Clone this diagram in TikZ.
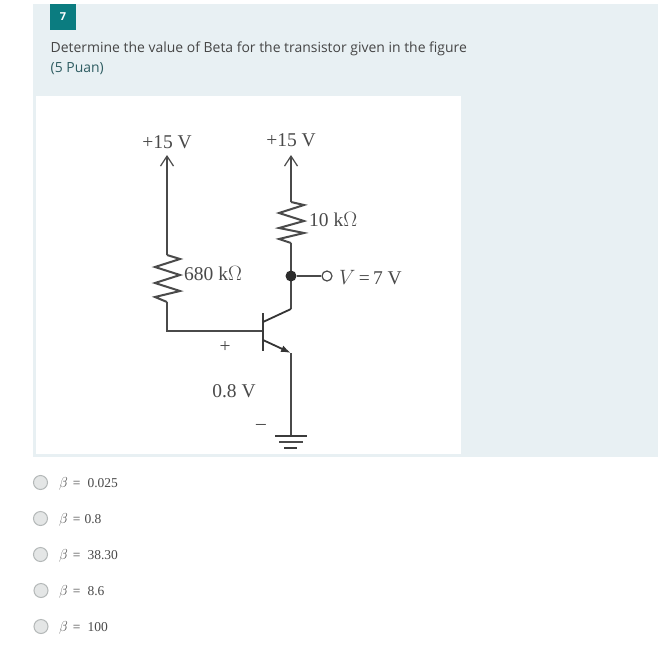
\documentclass[tikz,border=0pt]{standalone}
\usepackage{fontspec}
\setmainfont{Liberation Serif}
\newfontfamily\uifont{Open Sans}
\usetikzlibrary{arrows.meta}
\definecolor{panel}{HTML}{E8F0F3}
\definecolor{teal}{HTML}{0B7C80}
\definecolor{ink}{HTML}{4A4A4A}
\definecolor{uitext}{HTML}{454545}
\definecolor{puan}{HTML}{2F5D62}
\definecolor{radiofill}{HTML}{E4E6E6}
\definecolor{radioedge}{HTML}{B4B8B8}
\tikzset{
  wire/.style={draw=ink,line width=1.2pt,line join=miter},
  thick wire/.style={draw=ink!80!black,line width=2pt},
  bar/.style={draw=ink!70!black,line width=1.8pt},
  supply/.style={wire,-{Straight Barb[length=10pt,width=13pt,line width=1.2pt]}},
  lab/.style={text=ink,font=\fontsize{19.5}{21}\selectfont,inner sep=0pt},
  optlab/.style={text=ink,font=\fontsize{13.5}{15}\selectfont,inner sep=0pt,anchor=west},
  radio/.style={circle,draw=radioedge,fill=radiofill,line width=1pt,minimum size=14pt,inner sep=0pt},
  ui/.style={text=uitext,font=\uifont\fontsize{13.95}{16}\selectfont,inner sep=0pt,anchor=base west},
}
\begin{document}
\begin{tikzpicture}[x=1pt,y=-1pt]
\useasboundingbox (0,0) rectangle (658,653);
\fill[white] (0,0) rectangle (658,653);
\fill[panel] (33,4) rectangle (658,457);
\fill[white] (36,96) rectangle (461,454);
\node[fill=teal,minimum size=26pt,inner sep=0pt,text=white,font=\uifont\bfseries\fontsize{11}{13}\selectfont] (badge) at (63,17) {7};
\node[ui] (question) at (50.5,52.5) {Determine the value of Beta for the transistor given in the figure};
\node[ui,text=puan] (points) at (50.5,72) {(5 Puan)};

% named points
\coordinate (tipL) at (167,155);
\coordinate (tipR) at (291,155);
\coordinate (resLt) at (167,255);
\coordinate (resLb) at (167,302);
\coordinate (corner) at (167,331);
\coordinate (baseIn) at (263,331);
\coordinate (resRt) at (291,202);
\coordinate (resRb) at (291,243);
\coordinate (colBend) at (291,309);
\coordinate (colIn) at (263,322);
\coordinate (emIn) at (263,340);
\coordinate (emOut) at (291,353);
\coordinate (gnd) at (291,436);

% wires
\draw[supply] (resLt) -- (tipL);
\draw[supply] (resRt) -- (tipR);
\draw[wire] (resLb) -- (corner) -- (baseIn);
\draw[wire] (resRb) -- (colBend);
\draw[wire] (emOut) -- (gnd);
% resistors
\draw[wire,line width=2pt] (resLt) -- (180,259) -- (155,267) -- (180,275) -- (155,283) -- (180,291) -- (155,297) -- (resLb);
\draw[wire,line width=2pt] (resRt) -- (304,205) -- (279,213) -- (304,221) -- (279,228) -- (304,233) -- (279,239) -- (resRb);
% transistor
\draw[thick wire] (263,313) -- (263,351);
\draw[bar] (colIn) -- (colBend);
\draw[bar,-{Latex[length=10pt,width=7pt]}] (emIn) -- (emOut);
% ground
\draw[thick wire] (275,436) -- (307,436);
\draw[wire,line width=1.5pt] (279,442) -- (303,442);
\draw[thick wire] (284,448) -- (297,448);
% junction and terminal
\node[circle,fill=ink!60!black,minimum size=11pt,inner sep=0pt] (junction) at (291,276) {};
\node[circle,draw=ink,fill=white,line width=1.2pt,minimum size=10pt,inner sep=0pt] (term) at (327,276) {};
\draw[wire] (junction) -- (term);
% labels
\node[lab] (vl) at (167,142) {+15 V};
\node[lab] (vr) at (291,140.5) {+15 V};
\node[lab,anchor=west] (r2) at (309,220) {10 k$\Omega$};
\node[lab,anchor=west] (r1) at (184,274) {680 k$\Omega$};
\node[lab,anchor=west] (v7) at (339,277.5) {$V$\,=\,7 V};
\node[lab] (plus) at (225,347) {+};
\node[lab] (vbe) at (234,391.5) {0.8 V};
\node[lab] (minus) at (261,427) {\textendash};
% options
\node[radio] (o1) at (40.5,482.5) {};
\node[radio] (o2) at (40.5,518.5) {};
\node[radio] (o3) at (40.5,554.5) {};
\node[radio] (o4) at (41,590.5) {};
\node[radio] (o5) at (41,626.5) {};
\node[optlab] (t1) at (59,484) {$\beta$\hspace{5pt}=\hspace{7pt}0.025};
\node[optlab] (t2) at (59,520) {$\beta$\hspace{5pt}=\hspace{4pt}0.8};
\node[optlab] (t3) at (59,556) {$\beta$\hspace{5pt}=\hspace{7pt}38.30};
\node[optlab] (t4) at (59,592) {$\beta$\hspace{5pt}=\hspace{7pt}8.6};
\node[optlab] (t5) at (59,628) {$\beta$\hspace{5pt}=\hspace{7pt}100};
\end{tikzpicture}
\end{document}
